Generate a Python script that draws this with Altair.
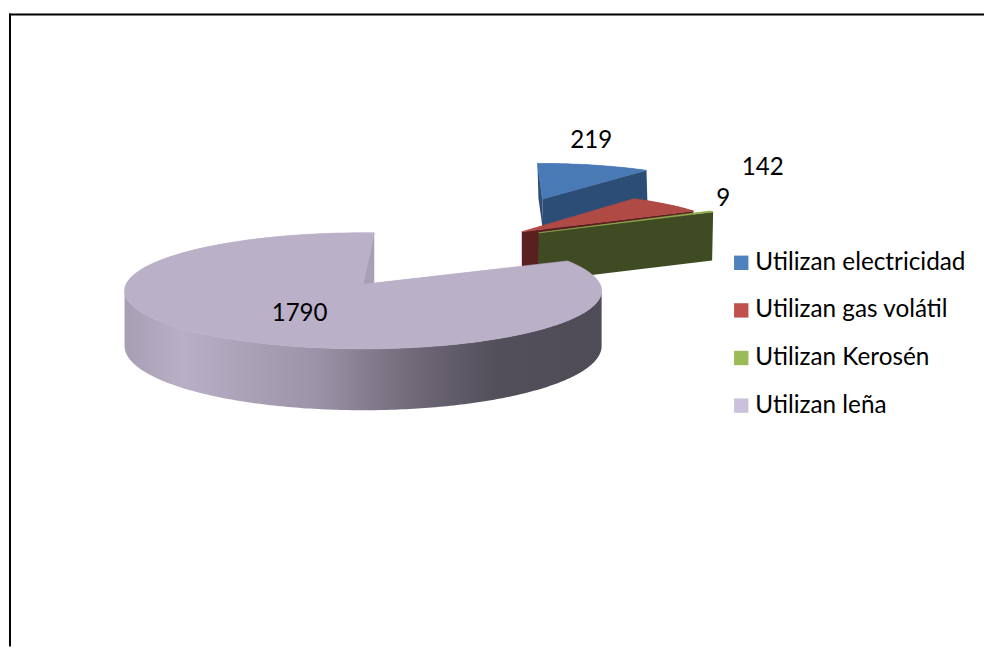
import math
import altair as alt
import pandas as pd

categories = ["Utilizan electricidad", "Utilizan gas volátil", "Utilizan Kerosén", "Utilizan leña"]
values = [219, 142, 9, 1790]
legend_colors = ["#4f81bd", "#c0504d", "#9bbb59", "#ccc1da"]
top_colors = ["#4a7ab5", "#b04a45", "#8fae50", "#bab0c8"]
wall_colors = ["#2c4d75", "#5a1f1f", "#3f4b22", "#a99fb5"]

START = 3.0
GEOM = [
    dict(vx=546.7, vy=198.0, a=182.7, c=-14.5, d=-35.9, e=-2.0, u=0.0, depth=35, shift=1),
    dict(vx=526.0, vy=231.0, a=205.6, c=-23.0, d=-40.9, e=-2.9, u=0.0, depth=45, shift=0),
    dict(vx=543.0, vy=232.0, a=205.5, c=-23.0, d=-43.0, e=-2.9, u=0.0, depth=49, shift=-1),
    dict(vx=366.0, vy=284.0, a=239.0, c=0.0, d=-57.8, e=0.0, u=0.111, depth=55, shift=0),
]
LABEL_POS = [(596, 140), (769, 167), (729, 198), (302, 314)]

total = sum(values)
angles = [START]
for v in values:
    angles.append(angles[-1] + 360 * v / total)


def project(g, deg):
    t = math.radians(deg)
    X, Z = math.sin(t), math.cos(t)
    s = 1 / (1 + g["u"] * Z)
    return (g["vx"] + (g["a"] * X + g["c"] * Z) * s,
            g["vy"] + (g["d"] * Z + g["e"] * X) * s, s)


def bottom(g, p):
    return (p[0] + g["shift"], p[1] + g["depth"] * p[2], p[2])


def frame(points):
    pts = list(points) + [points[0]]
    return pd.DataFrame({"i": range(len(pts)), "x": [p[0] for p in pts], "y": [p[1] for p in pts]})


def top_face(k):
    g = GEOM[k]
    n = 120 if k == 3 else 24
    a0, a1 = angles[k], angles[k + 1]
    rim = [project(g, a0 + (a1 - a0) * j / n) for j in range(n + 1)]
    return [(g["vx"], g["vy"], 1)] + rim


def edge_wall(k, deg):
    g = GEOM[k]
    v = (g["vx"], g["vy"], 1)
    r = project(g, deg)
    return [v, r, bottom(g, r), bottom(g, v)]


def rim_wall(k):
    # Only the part of the rim that faces the viewer, between its two horizontal extremes
    g = GEOM[k]
    n = 360
    a0, a1 = angles[k], angles[k + 1]
    rim = [project(g, a0 + (a1 - a0) * j / n) for j in range(n + 1)]
    xs = [p[0] for p in rim]
    i0, i1 = sorted((xs.index(max(xs)), xs.index(min(xs))))
    rim = rim[i0:i1 + 1]
    return rim + [bottom(g, p) for p in reversed(rim)]


X = alt.X("x:Q", axis=None, scale=alt.Scale(domain=[8, 992], nice=False, zero=False))
Y = alt.Y("y:Q", axis=None, scale=alt.Scale(domain=[8, 649], nice=False, zero=False, reverse=True))
ORDER = alt.Order("i:Q")


def poly(points, fill, stroke=None):
    return alt.Chart(frame(points)).mark_line(
        fill=fill, stroke=stroke or "transparent", strokeWidth=0.6 if stroke else 0,
        interpolate="linear").encode(x=X, y=Y, order=ORDER)


# Tops in legend colours: carries the legend, and is painted over by the real faces
legend_rows = []
for k, cat in enumerate(categories):
    f = frame(top_face(k))
    f["cat"] = cat
    legend_rows.append(f)
legend_layer = alt.Chart(pd.concat(legend_rows)).mark_line(strokeWidth=0, stroke="transparent").encode(
    x=X, y=Y, order=ORDER, detail="cat:N",
    fill=alt.Fill("cat:N", sort=categories,
                  scale=alt.Scale(domain=categories, range=legend_colors),
                  legend=alt.Legend(title=None, orient="none", legendX=727, legendY=242,
                                    symbolType="square", symbolSize=210, symbolStrokeWidth=0,
                                    labelFont="Lato", labelFontSize=24.5, labelColor="#000000",
                                    rowPadding=23, labelOffset=2, labelLimit=300)))

wall_gradient = {
    "gradient": "linear", "x1": 0, "x2": 1, "y1": 0, "y2": 0,
    "stops": [
        {"offset": 0, "color": "#a89eb4"},
        {"offset": 0.12, "color": "#b9afc6"},
        {"offset": 0.4, "color": "#9c93a8"},
        {"offset": 0.59, "color": "#736c7b"},
        {"offset": 0.78, "color": "#524e5a"},
        {"offset": 1, "color": "#4f4b57"},
    ],
}

layers = [legend_layer]
# Explosion order, back to front
layers += [poly(edge_wall(0, angles[0]), wall_colors[0]),
           poly(edge_wall(0, angles[1]), wall_colors[0]),
           poly(top_face(0), top_colors[0], top_colors[0])]
layers += [poly(edge_wall(1, angles[2]), wall_colors[1]),
           poly(top_face(1), top_colors[1], top_colors[1])]
layers += [poly(edge_wall(2, angles[3]), wall_colors[2]),
           poly(top_face(2), top_colors[2], top_colors[2])]
layers += [poly(edge_wall(3, angles[4]), wall_colors[3]),
           poly(rim_wall(3), wall_gradient),
           poly(top_face(3), top_colors[3], top_colors[3])]

labels = pd.DataFrame({
    "x": [p[0] for p in LABEL_POS],
    "y": [p[1] for p in LABEL_POS],
    "v": [str(v) for v in values],
})
layers.append(alt.Chart(labels).mark_text(font="Lato", fontSize=24.3, color="#000000", baseline="middle",
                                          align="center").encode(x=X, y=Y, text="v:N"))

layers.append(alt.Chart(pd.DataFrame({"a": [0]})).mark_rule(color="#000000", strokeWidth=2).encode(
    x=alt.value(1), x2=alt.value(984), y=alt.value(4)))
layers.append(alt.Chart(pd.DataFrame({"a": [0]})).mark_rule(color="#000000", strokeWidth=2).encode(
    x=alt.value(2), y=alt.value(3), y2=alt.value(641)))

chart = alt.layer(*layers).properties(
    width=984, height=641, padding=0, background="#ffffff",
    autosize=alt.AutoSizeParams(type="none")
).configure_view(stroke=None)
chart.save("out.html", embed_options={"renderer": "svg", "actions": False})
